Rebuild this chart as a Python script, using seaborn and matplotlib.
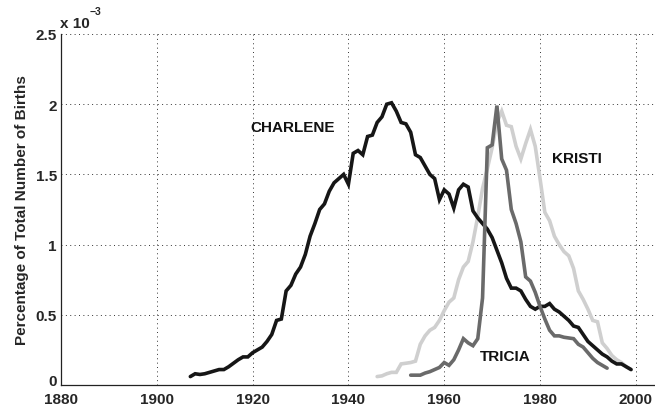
import numpy as np
import pandas as pd
import matplotlib
matplotlib.use("Agg")
import matplotlib.pyplot as plt
import matplotlib.transforms as mtransforms
from matplotlib.ticker import AutoMinorLocator
import seaborn as sns

# ---------------- data (values in units of 1e-3) ----------------
charlene_years = list(range(1907, 2000))
charlene_vals = [0.06, 0.08, 0.075, 0.08, 0.09, 0.10, 0.11, 0.11, 0.13, 0.155,
                 0.18, 0.20, 0.20, 0.23, 0.25, 0.27, 0.31, 0.36, 0.46, 0.47,
                 0.67, 0.71, 0.79, 0.84, 0.93, 1.06, 1.15, 1.25, 1.29, 1.38,
                 1.44, 1.47, 1.50, 1.43, 1.65, 1.67, 1.64, 1.77, 1.78, 1.87,
                 1.91, 2.00, 2.01, 1.95, 1.87, 1.86, 1.80, 1.64, 1.62, 1.56,
                 1.50, 1.47, 1.32, 1.39, 1.36, 1.26, 1.39, 1.43, 1.41, 1.24,
                 1.19, 1.15, 1.11, 1.05, 0.96, 0.87, 0.76, 0.69, 0.69, 0.67,
                 0.61, 0.56, 0.54, 0.56, 0.56, 0.58, 0.54, 0.52, 0.49, 0.46,
                 0.42, 0.41, 0.36, 0.31, 0.28, 0.25, 0.22, 0.20, 0.17, 0.15,
                 0.15, 0.13, 0.11]

kristi_years = list(range(1946, 2000))
kristi_vals = [0.06, 0.065, 0.08, 0.09, 0.09, 0.15, 0.155, 0.16, 0.17, 0.29,
               0.35, 0.39, 0.41, 0.46, 0.53, 0.59, 0.62, 0.75, 0.84, 0.88,
               1.02, 1.20, 1.40, 1.54, 1.69, 1.87, 1.95, 1.85, 1.84, 1.70,
               1.61, 1.72, 1.82, 1.70, 1.47, 1.23, 1.17, 1.06, 1.00, 0.95,
               0.92, 0.83, 0.67, 0.61, 0.54, 0.46, 0.45, 0.30, 0.26, 0.21,
               0.18, 0.16, 0.13, 0.11]

tricia_years = list(range(1953, 1995))
tricia_vals = [0.07, 0.07, 0.07, 0.085, 0.095, 0.11, 0.125, 0.16, 0.14, 0.18,
               0.25, 0.33, 0.30, 0.28, 0.33, 0.62, 1.69, 1.71, 1.99, 1.61,
               1.53, 1.25, 1.15, 1.02, 0.77, 0.74, 0.66, 0.56, 0.47, 0.39,
               0.35, 0.35, 0.34, 0.335, 0.33, 0.29, 0.27, 0.23, 0.19, 0.16,
               0.14, 0.12]

names = ["CHARLENE", "KRISTI", "TRICIA"]
x_ticks = [1880, 1900, 1920, 1940, 1960, 1980, 2000]
y_ticks = [0, 0.5, 1, 1.5, 2, 2.5]
y_tick_labels = ["0", "0.5", "1", "1.5", "2", "2.5"]

# ---------------- build frame ----------------
df = pd.concat([
    pd.DataFrame({"year": kristi_years, "value": kristi_vals, "name": "KRISTI"}),
    pd.DataFrame({"year": charlene_years, "value": charlene_vals, "name": "CHARLENE"}),
    pd.DataFrame({"year": tricia_years, "value": tricia_vals, "name": "TRICIA"}),
], ignore_index=True)

sns.set_style("white")
plt.rcParams["font.family"] = ["Liberation Sans", "DejaVu Sans"]
plt.rcParams["font.weight"] = "bold"

FS = 11

fig = plt.figure(figsize=(6.55, 4.06), dpi=100)
ax = fig.add_axes([61 / 655, 1 - 386 / 406, 594 / 655, 351 / 406])

palette = {"CHARLENE": "#161616", "KRISTI": "#cfcfcf", "TRICIA": "#6a6a6a"}
for nm in ["KRISTI", "CHARLENE", "TRICIA"]:
    sns.lineplot(data=df[df["name"] == nm], x="year", y="value", color=palette[nm],
                 linewidth=2.6, ax=ax, legend=False, estimator=None,
                 solid_joinstyle="miter")

ax.set_xlim(1880, 2004)
ax.set_ylim(0, 2.5)
ax.set_xticks(x_ticks)
ax.set_xticklabels([str(t) for t in x_ticks], fontsize=FS, fontweight="bold")
ax.set_yticks(y_ticks)
ax.set_yticklabels(y_tick_labels, fontsize=FS, fontweight="bold")
ax.xaxis.set_minor_locator(AutoMinorLocator(10))
ax.yaxis.set_minor_locator(AutoMinorLocator(10))
ax.tick_params(axis="both", which="major", direction="in", length=4.5, width=0.8,
               color="#222222")
ax.tick_params(axis="x", which="major", pad=5)
ax.tick_params(axis="y", which="major", pad=3)
ax.tick_params(axis="both", which="minor", direction="in", length=2, width=0.6,
               color="#444444")
ax.set_xlabel("")
ax.set_ylabel("Percentage of Total Number of Births", fontsize=FS,
              fontweight="bold", labelpad=5)

# lift the "0" label a little so it sits clear of "1880"
zero_lbl = ax.get_yticklabels()[0]
zero_lbl.set_transform(zero_lbl.get_transform() +
                       mtransforms.ScaledTranslation(0, 4 / 72, fig.dpi_scale_trans))

ax.grid(True, which="major", linestyle=(0, (1, 3.5)), linewidth=0.7, color="#333333")
ax.set_axisbelow(True)
for s in ["top", "right"]:
    ax.spines[s].set_visible(False)
for s in ["left", "bottom"]:
    ax.spines[s].set_color("#222222")
    ax.spines[s].set_linewidth(0.9)

ax.text(1919.6, 1.835, "CHARLENE", fontsize=FS, fontweight="bold",
        va="center", ha="left", color="#111111")
ax.text(1982.6, 1.62, "KRISTI", fontsize=FS, fontweight="bold",
        va="center", ha="left", color="#111111")
ax.text(1967.4, 0.205, "TRICIA", fontsize=FS, fontweight="bold",
        va="center", ha="left", color="#111111")

fig.text(60 / 655, 1 - 28 / 406, "x 10", fontsize=FS, fontweight="bold",
         va="baseline", ha="left")
fig.text(90 / 655, 1 - 15 / 406, "\u22123", fontsize=7.5, fontweight="bold",
         va="baseline", ha="left")

fig.savefig("out.png", dpi=100)
